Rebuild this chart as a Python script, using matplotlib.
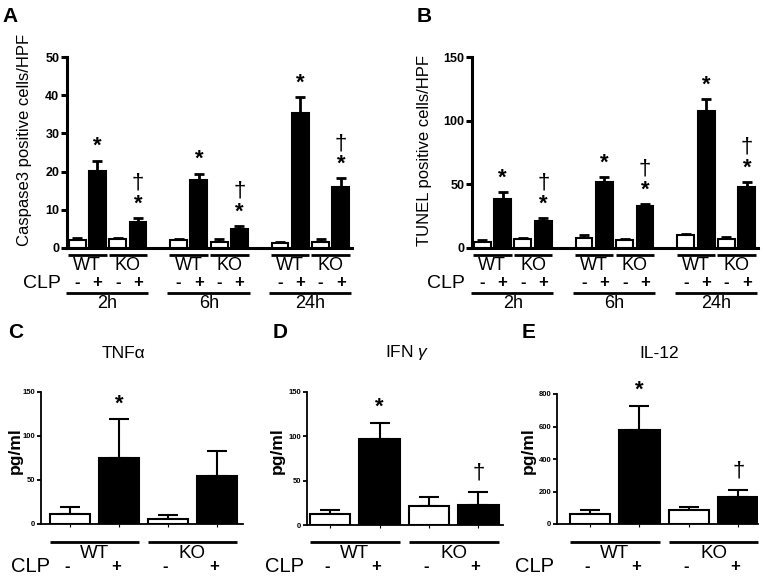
import matplotlib
matplotlib.use("Agg")
import matplotlib.pyplot as plt
import matplotlib.transforms as mtransforms
import numpy as np

plt.rcParams['font.family'] = ['Liberation Sans', 'DejaVu Sans']
plt.rcParams['mathtext.fontset'] = 'custom'
plt.rcParams['mathtext.rm'] = 'Liberation Sans'
plt.rcParams['mathtext.it'] = 'Liberation Sans:italic'

# ---------------- data ----------------
time_points = ['2h', '6h', '24h']
genotypes = ['WT', 'KO']
clp_signs = ['-', '+']

casp_mean = [2.2, 20.2, 2.4, 6.8, 2.0, 17.7, 1.7, 5.0, 1.4, 35.3, 1.6, 16.0]
casp_err = [0.4, 2.7, 0.3, 1.1, 0.4, 1.8, 0.7, 0.8, 0.3, 4.1, 0.7, 2.2]
casp_marks = ['', '*', '', '†*', '', '*', '', '†*', '', '*', '', '†*']

tunel_mean = [4.7, 38.7, 7.3, 20.9, 7.9, 51.6, 6.3, 32.7, 9.9, 107.3, 7.3, 47.6]
tunel_err = [1.8, 5.5, 0.8, 2.7, 2.0, 3.9, 0.8, 1.9, 1.1, 9.5, 1.1, 4.2]
tunel_marks = ['', '*', '', '†*', '', '*', '', '†*', '', '*', '', '†*']

tnf_mean = [11.7, 75.4, 5.7, 54.9]
tnf_err = [7.2, 43.5, 4.1, 28.4]
tnf_marks = ['', '*', '', '']

ifn_mean = [12.4, 97.5, 21.8, 22.1]
ifn_err = [4.5, 18.0, 9.7, 15.0]
ifn_marks = ['', '*', '', '†']

il12_mean = [63, 579, 84, 164]
il12_err = [25, 149, 20, 45]
il12_marks = ['', '*', '', '†']

# ---------------- figure ----------------
W, H = 765, 576
fig = plt.figure(figsize=(W / 100, H / 100), dpi=100)


def add_ax(l, r, t, b):
    return fig.add_axes([l / W, 1 - b / H, (r - l) / W, (b - t) / H])


def fy(p):
    return 1 - p / H


def style_ax(ax, lw, tick_fs, tick_len):
    for s in ['top', 'right']:
        ax.spines[s].set_visible(False)
    for s in ['left', 'bottom']:
        ax.spines[s].set_linewidth(lw)
    ax.tick_params(axis='y', width=lw, length=tick_len, labelsize=tick_fs, pad=1)
    for lab in ax.get_yticklabels():
        lab.set_fontweight('bold')


def draw_bars(ax, x, mean, err, marks, width, capsize, elw, ast_off, dag_off, dag_single):
    colors = ['white', 'black'] * (len(mean) // 2)
    ax.errorbar(x, mean, yerr=[np.zeros(len(err)), err], fmt='none', ecolor='black',
                elinewidth=elw, capsize=capsize, capthick=elw, zorder=2, clip_on=False)
    ax.bar(x, mean, width=width, color=colors, edgecolor='black', linewidth=1.5, zorder=3)
    for xi, m, e, mk in zip(x, mean, err, marks):
        top = m + e
        if '*' in mk:
            ax.annotate('*', xy=(xi, top), xytext=(0, ast_off), textcoords='offset points',
                        ha='center', va='center', fontsize=16, fontweight='bold',
                        annotation_clip=False)
        if '†' in mk:
            off = dag_off if '*' in mk else dag_single
            ax.annotate('†', xy=(xi, top), xytext=(0, off), textcoords='offset points',
                        ha='center', va='center', fontsize=16,
                        annotation_clip=False)


# ---------- panels A and B ----------
xpos = [0, 1, 2, 3, 5, 6, 7, 8, 10, 11, 12, 13]


def time_panel(l, r, mean, err, marks, ymax, yticks, ylabel, ylab_x, ylab_y, clp_x,
               letter, letter_x):
    ax = add_ax(l, r, 57, 248)
    draw_bars(ax, xpos, mean, err, marks, 0.83, 3.3, 2.0, 10, 25, 25)
    ax.set_xlim(-0.5, 13.55)
    ax.set_ylim(0, ymax)
    ax.set_yticks(yticks)
    ax.set_xticks([])
    style_ax(ax, 2.2, 9, 4.5)
    fig.text(ylab_x / W, fy(ylab_y), ylabel, rotation=90, ha='center', va='center', fontsize=12)
    fig.text(letter_x / W, fy(16), letter, ha='center', va='center', fontsize=15, fontweight='bold')
    tr = mtransforms.blended_transform_factory(ax.transData, fig.transFigure)
    for g in range(3):
        base = xpos[4 * g]
        for k in range(2):
            c = base + 2 * k + 0.5
            ax.plot([c - 0.95, c + 0.95], [fy(255), fy(255)], color='black', lw=2,
                    transform=tr, clip_on=False, solid_capstyle='butt')
            ax.text(c, fy(266), genotypes[k], transform=tr, ha='center', va='center', fontsize=13)
            for j in range(2):
                ax.text(base + 2 * k + j, fy(283), clp_signs[j], transform=tr, ha='center',
                        va='center', fontsize=12, fontweight='bold')
        ax.plot([base - 0.55, base + 3.5], [fy(293), fy(293)], color='black', lw=2,
                transform=tr, clip_on=False, solid_capstyle='butt')
        ax.text(base + 1.5, fy(303), time_points[g], transform=tr, ha='center', va='center',
                fontsize=13)
    fig.text(clp_x / W, fy(283), 'CLP', ha='center', va='center', fontsize=14)
    return ax


time_panel(67, 352, casp_mean, casp_err, casp_marks, 50, [0, 10, 20, 30, 40, 50],
           'Caspase3 positive cells/HPF', 25, 140, 42, 'A', 10)
time_panel(472, 758, tunel_mean, tunel_err, tunel_marks, 150, [0, 50, 100, 150],
           'TUNEL positive cells/HPF', 425, 151, 446, 'B', 424)

# ---------- panels C, D, E ----------
xc = [0, 1, 2, 3]


def cyto_panel(l, r, t, b, xlim, mean, err, marks, ymax, yticks, title, title_x,
               ylab_x, clp_x, letter, letter_x):
    ax = add_ax(l, r, t, b)
    draw_bars(ax, xc, mean, err, marks, 0.82, 7.5, 1.5, 11, 14, 14)
    ax.set_xlim(*xlim)
    ax.set_ylim(0, ymax)
    ax.set_yticks(yticks)
    ax.set_xticks(xc)
    ax.set_xticklabels([])
    ax.tick_params(axis='x', length=2.5, width=0.8)
    style_ax(ax, 1.3, 5.5, 3)
    fig.text(title_x / W, fy(353), title, ha='center', va='center', fontsize=12.5)
    fig.text(ylab_x / W, fy(451), 'pg/ml', rotation=90, ha='center', va='center',
             fontsize=12.5, fontweight='bold')
    fig.text(letter_x / W, fy(333), letter, ha='center', va='center', fontsize=15, fontweight='bold')
    tr = mtransforms.blended_transform_factory(ax.transData, fig.transFigure)
    for k in range(2):
        c = 2 * k + 0.5
        ax.plot([c - 0.91, c + 0.91], [fy(542), fy(542)], color='black', lw=2,
                transform=tr, clip_on=False, solid_capstyle='butt')
        ax.text(c, fy(553), genotypes[k], transform=tr, ha='center', va='center', fontsize=13.5)
        for j in range(2):
            ax.text(2 * k + j - 0.06, fy(566), clp_signs[j], transform=tr, ha='center',
                    va='center', fontsize=12, fontweight='bold')
    fig.text(clp_x / W, fy(566), 'CLP', ha='center', va='center', fontsize=14.5)
    return ax


cyto_panel(41, 243, 392, 524, (-0.59, 3.53), tnf_mean, tnf_err, tnf_marks, 150,
           [0, 50, 100, 150], 'TNFα', 124, 15, 31, 'C', 16)
cyto_panel(307, 503, 392, 525, (-0.47, 3.5), ifn_mean, ifn_err, ifn_marks, 150,
           [0, 50, 100, 150], 'IFN $\\mathit{γ}$', 407, 277, 284, 'D', 280)
cyto_panel(557, 758, 394, 524, (-0.67, 3.4), il12_mean, il12_err, il12_marks, 800,
           [0, 200, 400, 600, 800], 'IL-12', 659, 528, 534, 'E', 529)

fig.savefig('out.png', dpi=100)
